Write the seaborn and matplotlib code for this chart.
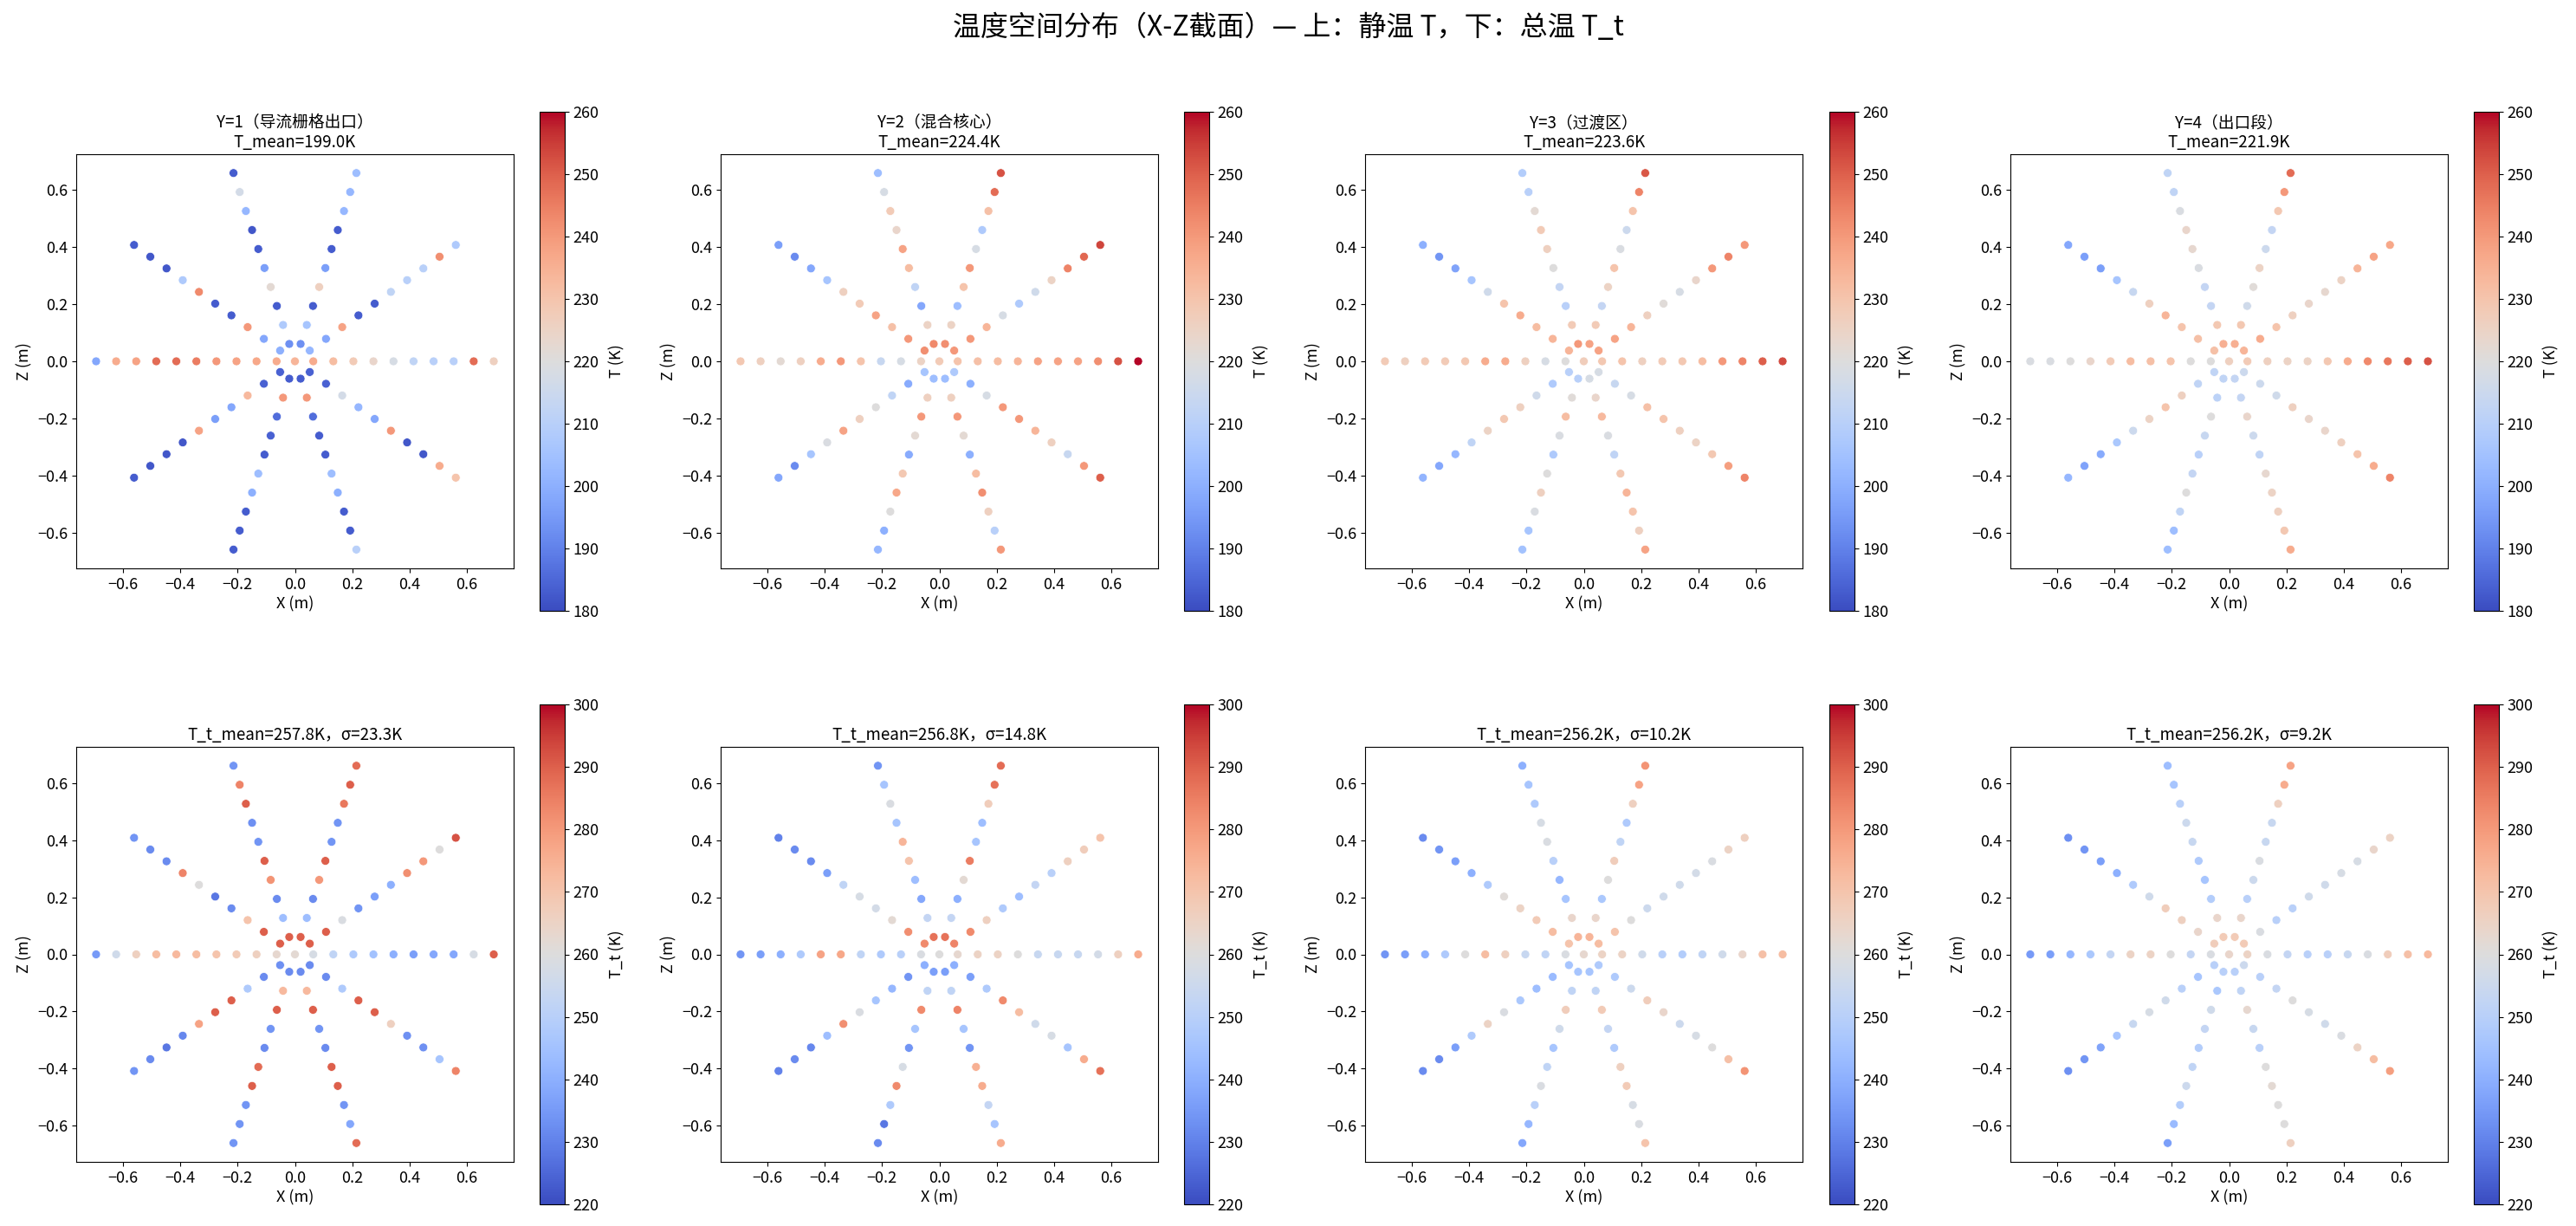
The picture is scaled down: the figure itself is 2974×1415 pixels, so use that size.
import numpy as np
import pandas as pd
import matplotlib
matplotlib.use("Agg")
import matplotlib.pyplot as plt
import seaborn as sns

plt.rcParams['font.family'] = ['Noto Sans CJK SC', 'DejaVu Sans']

# sampling layout: 10 rays, 10 radii per ray, plus one centre point
angles_deg = [0, 36, 72, 108, 144, 180, 216, 252, 288, 324]
radii = [0.064, 0.134, 0.204, 0.274, 0.344, 0.414, 0.484, 0.554, 0.624, 0.694]

# static temperature T (K), one row per ray (same order as angles_deg), inner -> outer
T_y1_center = 234
T_y1 = [[236, 232, 228, 224, 218, 212, 210, 210, 248, 226],
        [202, 198, 238, 183, 183, 212, 210, 210, 242, 208],
        [193, 206, 183, 226, 196, 183, 183, 202, 202, 204],
        [193, 208, 183, 222, 196, 183, 182, 202, 217, 183],
        [200, 198, 240, 183, 183, 243, 208, 182, 182, 183],
        [236, 237, 238, 240, 245, 248, 248, 238, 236, 198],
        [184, 184, 233, 198, 196, 238, 182, 182, 182, 183],
        [183, 240, 186, 184, 183, 204, 200, 183, 183, 183],
        [183, 240, 186, 183, 183, 204, 200, 183, 183, 210],
        [184, 184, 217, 202, 198, 240, 182, 182, 236, 230]]

T_y2_center = 228
T_y2 = [[230, 231, 232, 234, 238, 238, 238, 242, 252, 260],
        [240, 240, 234, 218, 208, 216, 225, 244, 249, 254],
        [242, 225, 204, 230, 240, 218, 208, 231, 248, 252],
        [243, 225, 198, 212, 232, 238, 224, 228, 218, 204],
        [242, 240, 231, 238, 228, 226, 206, 198, 192, 196],
        [225, 218, 214, 230, 240, 236, 226, 222, 226, 229],
        [206, 199, 212, 220, 226, 238, 219, 206, 192, 198],
        [204, 226, 240, 222, 199, 229, 237, 220, 200, 202],
        [204, 226, 240, 222, 200, 232, 242, 226, 210, 240],
        [208, 200, 218, 240, 240, 234, 226, 214, 240, 250]]

T_y3_center = 227
T_y3 = [[229, 230, 226, 228, 229, 232, 240, 244, 250, 253],
        [238, 238, 234, 226, 221, 218, 224, 240, 244, 240],
        [238, 228, 213, 225, 230, 219, 215, 230, 244, 251],
        [240, 228, 210, 213, 220, 226, 228, 222, 210, 209],
        [234, 234, 232, 236, 230, 216, 206, 197, 194, 200],
        [220, 218, 226, 236, 236, 229, 228, 228, 226, 228],
        [210, 208, 216, 226, 229, 225, 212, 202, 198, 201],
        [210, 221, 232, 219, 208, 220, 226, 219, 206, 205],
        [218, 224, 233, 219, 212, 229, 234, 230, 226, 238],
        [218, 214, 218, 231, 230, 226, 225, 229, 239, 244]]

T_y4_center = 226
T_y4 = [[228, 226, 225, 225, 229, 236, 243, 246, 250, 252],
        [234, 236, 230, 226, 224, 223, 225, 234, 238, 237],
        [235, 229, 216, 221, 225, 215, 213, 229, 240, 248],
        [235, 229, 213, 213, 219, 223, 224, 219, 212, 212],
        [231, 231, 230, 234, 226, 214, 206, 196, 196, 198],
        [220, 220, 230, 231, 232, 228, 224, 220, 219, 219],
        [212, 212, 226, 230, 225, 215, 207, 199, 197, 202],
        [212, 211, 220, 214, 210, 213, 220, 212, 204, 204],
        [213, 213, 224, 215, 212, 223, 225, 226, 229, 236],
        [215, 215, 216, 226, 224, 224, 226, 230, 236, 244]]

# total temperature T_t (K)
Tt_y1_center = 262
Tt_y1 = [[258, 252, 248, 245, 240, 236, 238, 238, 258, 290],
         [290, 290, 259, 234, 236, 240, 282, 280, 260, 292],
         [290, 244, 232, 280, 290, 234, 234, 286, 290, 288],
         [290, 244, 232, 281, 290, 234, 233, 290, 284, 234],
         [290, 290, 270, 232, 228, 260, 284, 232, 232, 234],
         [263, 266, 268, 270, 272, 273, 272, 266, 256, 235],
         [233, 232, 248, 290, 290, 278, 231, 228, 232, 234],
         [232, 273, 290, 234, 232, 288, 290, 234, 234, 234],
         [232, 273, 290, 234, 232, 290, 290, 234, 238, 288],
         [232, 232, 248, 290, 290, 266, 233, 233, 246, 284]]

Tt_y2_center = 260
Tt_y2 = [[263, 265, 265, 260, 254, 254, 254, 257, 266, 276],
         [284, 283, 266, 248, 244, 253, 250, 266, 267, 270],
         [287, 253, 240, 262, 285, 246, 244, 267, 287, 288],
         [287, 253, 238, 244, 270, 274, 246, 259, 246, 234],
         [283, 282, 262, 257, 258, 252, 236, 232, 232, 230],
         [259, 250, 248, 252, 277, 278, 248, 240, 236, 234],
         [240, 234, 242, 246, 259, 282, 244, 231, 232, 230],
         [236, 252, 283, 246, 234, 258, 283, 248, 228, 232],
         [236, 252, 284, 246, 234, 275, 276, 253, 246, 276],
         [240, 236, 248, 283, 272, 256, 258, 246, 276, 287]]

Tt_y3_center = 263
Tt_y3 = [[265, 265, 256, 250, 249, 252, 256, 264, 271, 272],
         [272, 270, 260, 255, 256, 256, 257, 259, 265, 266],
         [274, 264, 247, 260, 267, 252, 248, 266, 278, 281],
         [274, 264, 246, 242, 250, 259, 258, 248, 246, 240],
         [270, 272, 268, 265, 261, 248, 240, 236, 234, 232],
         [259, 252, 254, 266, 272, 260, 248, 240, 236, 234],
         [246, 243, 244, 247, 259, 265, 248, 236, 232, 232],
         [246, 252, 267, 256, 246, 252, 259, 250, 242, 238],
         [246, 252, 268, 253, 248, 266, 268, 258, 259, 270],
         [248, 248, 255, 267, 264, 255, 258, 260, 271, 281]]

Tt_y4_center = 264
Tt_y4 = [[265, 259, 253, 250, 250, 254, 259, 267, 271, 273],
         [268, 259, 250, 250, 256, 256, 258, 258, 264, 265],
         [268, 264, 250, 255, 259, 254, 254, 266, 276, 278],
         [268, 264, 249, 246, 248, 254, 255, 250, 246, 244],
         [267, 264, 266, 267, 256, 248, 240, 236, 234, 233],
         [259, 253, 260, 265, 265, 253, 247, 242, 236, 235],
         [250, 246, 250, 256, 258, 254, 246, 237, 234, 233],
         [250, 247, 256, 253, 249, 252, 255, 249, 243, 236],
         [250, 252, 263, 254, 250, 260, 262, 260, 260, 266],
         [255, 250, 253, 260, 258, 256, 259, 265, 272, 279]]

top_titles = ['Y=1（导流栅格出口）\nT_mean=199.0K',
              'Y=2（混合核心）\nT_mean=224.4K',
              'Y=3（过渡区）\nT_mean=223.6K',
              'Y=4（出口段）\nT_mean=221.9K']
bottom_titles = ['T_t_mean=257.8K，σ=23.3K',
                 'T_t_mean=256.8K，σ=14.8K',
                 'T_t_mean=256.2K，σ=10.2K',
                 'T_t_mean=256.2K，σ=9.2K']

static_sets = [(T_y1_center, T_y1), (T_y2_center, T_y2), (T_y3_center, T_y3), (T_y4_center, T_y4)]
total_sets = [(Tt_y1_center, Tt_y1), (Tt_y2_center, Tt_y2), (Tt_y3_center, Tt_y3), (Tt_y4_center, Tt_y4)]


def to_frame(center, rays):
    rows = [(0.0, 0.0, center)]
    for ang, vals in zip(angles_deg, rays):
        a = np.deg2rad(ang)
        for r, v in zip(radii, vals):
            rows.append((r * np.cos(a), r * np.sin(a), v))
    return pd.DataFrame(rows, columns=['x', 'z', 'T'])


W, H = 2974, 1415
fig = plt.figure(figsize=(W / 100, H / 100), dpi=100)

ax_left = [88, 832, 1576, 2321]
cb_left = [623, 1367, 2112, 2856]
rows_cfg = [
    # axes top/bottom px, cbar top/bottom px, data, vmin, vmax, cbar label, titles
    (178, 656, 129, 705, static_sets, 180, 260, 'T (K)', top_titles),
    (862, 1341, 813, 1390, total_sets, 220, 300, 'T_t (K)', bottom_titles),
]

for a_top, a_bot, c_top, c_bot, sets, vmin, vmax, clabel, titles in rows_cfg:
    for i in range(4):
        ax = fig.add_axes([ax_left[i] / W, 1 - a_bot / H, 505 / W, (a_bot - a_top) / H])
        cax = fig.add_axes([cb_left[i] / W, 1 - c_bot / H, 29 / W, (c_bot - c_top) / H])
        df = to_frame(*sets[i])
        sns.scatterplot(data=df, x='x', y='z', hue='T', palette='coolwarm',
                        hue_norm=(vmin, vmax), s=52, edgecolor='white',
                        linewidth=0.5, legend=False, ax=ax)
        ax.set_title(titles[i], fontsize=13.5, linespacing=1.1)
        ax.set_xlabel('X (m)', fontsize=13, labelpad=3)
        ax.set_ylabel('Z (m)', fontsize=13)
        ax.tick_params(labelsize=13)
        sm = plt.cm.ScalarMappable(cmap='coolwarm', norm=plt.Normalize(vmin, vmax))
        cb = fig.colorbar(sm, cax=cax)
        cb.set_label(clabel, fontsize=13, labelpad=8)
        cb.ax.tick_params(labelsize=13)

fig.suptitle('温度空间分布（X-Z截面）— 上：静温 T，下：总温 T_t', fontsize=23,
             y=1 - 32 / H, va='center')
fig.savefig('out.png', dpi=100)
